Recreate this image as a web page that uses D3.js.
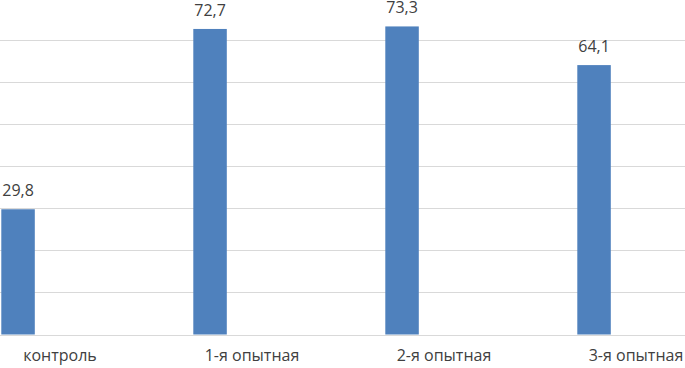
<!DOCTYPE html>
<html>
<head>
<meta charset="utf-8">
<script src="https://cdn.jsdelivr.net/npm/d3@7"></script>
<style>
  body { margin: 0; background: #fff; }
  svg text { font-family: "Open Sans", "Noto Sans", sans-serif; fill: #404040; }
</style>
</head>
<body>
<div id="chart"></div>
<script>
// data
let categories = ["контроль", "1-я опытная", "2-я опытная", "3-я опытная"];
let values = [29.8, 72.7, 73.3, 64.1];
let labels = ["29,8", "72,7", "73,3", "64,1"];
let gridTicks = [10, 20, 30, 40, 50, 60, 70];

let W = 685, H = 368;
let svg = d3.select("#chart").append("svg")
    .attr("width", W)
    .attr("height", H);

// scales
let x = d3.scaleBand().domain(categories).range([-36, 732]).padding(0);
let y = d3.scaleLinear().domain([0, 70]).range([334.5, 40.3]);
let barW = 33.5;
let barOff = 37.3;   // bar sits left of the category centre

// gridlines
svg.append("g").selectAll("line")
    .data(gridTicks)
    .enter()
    .append("line")
    .attr("x1", 0).attr("x2", W)
    .attr("y1", d => Math.round(y(d)) + 0.5)
    .attr("y2", d => Math.round(y(d)) + 0.5)
    .attr("stroke", "#d9d9d9")
    .attr("stroke-width", 1);

// baseline
svg.append("line")
    .attr("x1", 0).attr("x2", W)
    .attr("y1", Math.round(y(0)) + 0.5).attr("y2", Math.round(y(0)) + 0.5)
    .attr("stroke", "#d9d9d9")
    .attr("stroke-width", 1);

// bars
svg.append("g").selectAll("rect")
    .data(values)
    .enter()
    .append("rect")
    .attr("x", (d, i) => x(categories[i]) + barOff)
    .attr("y", d => y(d))
    .attr("width", barW)
    .attr("height", d => y(0) - y(d))
    .attr("fill", "#4f81bd");

// value labels
svg.append("g").selectAll("text")
    .data(values)
    .enter()
    .append("text")
    .attr("x", (d, i) => x(categories[i]) + barOff + barW / 2)
    .attr("y", d => y(d) - 13)
    .attr("text-anchor", "middle")
    .style("font-size", "16px")
    .text((d, i) => labels[i]);

// category labels
svg.append("g").selectAll("text")
    .data(categories)
    .enter()
    .append("text")
    .attr("x", d => x(d) + x.bandwidth() / 2)
    .attr("y", 361)
    .attr("text-anchor", "middle")
    .style("font-size", "16px")
    .text(d => d);
</script>
</body>
</html>
